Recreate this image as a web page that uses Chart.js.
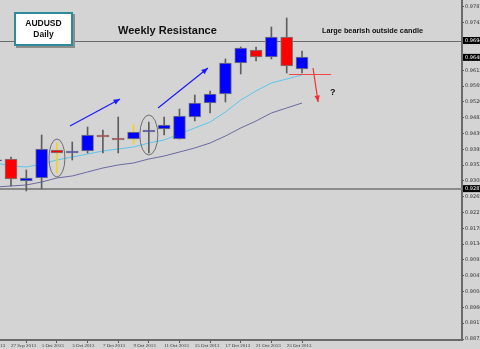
<!DOCTYPE html>
<html>
<head>
<meta charset="utf-8">
<script src="https://cdn.jsdelivr.net/npm/chart.js@4.4.0/dist/chart.umd.min.js"></script>
<style>
html, body { margin: 0; padding: 0; background: #d4d4d4; overflow: hidden; }
canvas { display: block; }
</style>
</head>
<body>
<canvas id="chart" width="480" height="349"></canvas>
<script>
// AUDUSD daily candles, 26 Sep - 24 Oct 2013
const dates = ['26 Sep 2013', '27 Sep 2013', '30 Sep 2013', '1 Oct 2013', '2 Oct 2013', '3 Oct 2013', '4 Oct 2013',
    '7 Oct 2013', '8 Oct 2013', '9 Oct 2013', '10 Oct 2013', '11 Oct 2013', '14 Oct 2013', '15 Oct 2013',
    '16 Oct 2013', '17 Oct 2013', '18 Oct 2013', '21 Oct 2013', '22 Oct 2013', '23 Oct 2013', '24 Oct 2013'];
const opens  = [0.93640, 0.93686, 0.93080, 0.93163, 0.93934, 0.93851, 0.93906, 0.94346, 0.94264, 0.94236, 0.94429,
    0.94512, 0.94236, 0.94842, 0.95227, 0.95475, 0.96329, 0.96686, 0.96494, 0.97044, 0.96163];
const highs  = [0.93900, 0.93741, 0.93383, 0.94346, 0.94126, 0.94154, 0.94567, 0.94484, 0.94842, 0.94622, 0.94704,
    0.94842, 0.95062, 0.95448, 0.95558, 0.96439, 0.96769, 0.96769, 0.97320, 0.97567, 0.96659];
const lows   = [0.93400, 0.92942, 0.92805, 0.92860, 0.93300, 0.93658, 0.93851, 0.93851, 0.93851, 0.94099, 0.93851,
    0.94346, 0.94236, 0.94732, 0.94952, 0.95255, 0.96026, 0.96384, 0.96439, 0.96053, 0.96053];
const closes = [0.93660, 0.93135, 0.93163, 0.93961, 0.93851, 0.93906, 0.94346, 0.94291, 0.94209, 0.94429, 0.94484,
    0.94622, 0.94870, 0.95227, 0.95475, 0.96329, 0.96742, 0.96494, 0.97044, 0.96246, 0.96494];

// moving averages (fast light blue, slow slate)
const maFast = [0.93576, 0.93493, 0.93466, 0.93548, 0.93658, 0.93741, 0.93823, 0.93906, 0.93961, 0.94016, 0.94126,
    0.94209, 0.94374, 0.94539, 0.94704, 0.94980, 0.95310, 0.95558, 0.95778, 0.95888, 0.95998];
const maSlow = [0.92915, 0.92942, 0.92970, 0.93052, 0.93163, 0.93218, 0.93328, 0.93438, 0.93521, 0.93576, 0.93686,
    0.93768, 0.93878, 0.93989, 0.94126, 0.94319, 0.94539, 0.94732, 0.94952, 0.95090, 0.95227];

// candles whose wicks were marked in yellow
const markedCandles = ['2 Oct 2013', '9 Oct 2013'];

// axis ticks
const yTicks = [0.97870, 0.97430, 0.96130, 0.95690, 0.95260, 0.94820, 0.94390, 0.93950, 0.93520, 0.93080,
    0.92650, 0.92210, 0.91780, 0.91340, 0.90910, 0.90470, 0.90040, 0.89600, 0.89170, 0.88730];
const xTickLabels = ['25 Sep 2013', '27 Sep 2013', '1 Oct 2013', '3 Oct 2013', '7 Oct 2013', '9 Oct 2013',
    '11 Oct 2013', '15 Oct 2013', '17 Oct 2013', '21 Oct 2013', '23 Oct 2013'];
const xTickPos = [-1, 1, 3, 5, 7, 9, 11, 13, 15, 17, 19];

// levels drawn on the chart
const resistance = 0.96947;
const support = 0.92870;
const lastPrice = 0.96483;

const BLUE = '#0000ff';
const RED = '#ff0000';

const bodies = dates.map((d, i) => ({ x: i, y: [opens[i], closes[i]] }));
const wicks = dates.map((d, i) => ({ x: i, y: [lows[i], highs[i]] }));

// Helper: line with arrow head
function arrow(ctx, x1, y1, x2, y2, color) {
    const a = Math.atan2(y2 - y1, x2 - x1);
    const len = 7;
    ctx.save();
    ctx.strokeStyle = color;
    ctx.fillStyle = color;
    ctx.lineWidth = 1.2;
    ctx.beginPath();
    ctx.moveTo(x1, y1);
    ctx.lineTo(x2, y2);
    ctx.stroke();
    ctx.beginPath();
    ctx.moveTo(x2, y2);
    ctx.lineTo(x2 - len * Math.cos(a - 0.4), y2 - len * Math.sin(a - 0.4));
    ctx.lineTo(x2 - len * Math.cos(a + 0.4), y2 - len * Math.sin(a + 0.4));
    ctx.closePath();
    ctx.fill();
    ctx.restore();
}

const overlay = {
    id: 'overlay',
    beforeDraw(chart) {
        const ctx = chart.ctx;
        ctx.save();
        ctx.fillStyle = '#d4d4d4';
        ctx.fillRect(0, 0, chart.width, chart.height);
        ctx.restore();
    },
    beforeDatasetsDraw(chart) {
        const { ctx, chartArea, scales } = chart;
        ctx.save();
        ctx.strokeStyle = '#6a6a6a';
        ctx.lineWidth = 1;
        const yr = Math.round(scales.y.getPixelForValue(resistance)) + 0.5;
        ctx.beginPath();
        ctx.moveTo(chartArea.left, yr);
        ctx.lineTo(chartArea.right, yr);
        ctx.stroke();
        ctx.lineWidth = 2;
        ctx.strokeStyle = '#8a8a8a';
        const ys = Math.round(scales.y.getPixelForValue(support));
        ctx.beginPath();
        ctx.moveTo(chartArea.left, ys);
        ctx.lineTo(chartArea.right, ys);
        ctx.stroke();
        ctx.restore();
    },
    afterDatasetsDraw(chart) {
        const { ctx, scales } = chart;
        const px = v => scales.x.getPixelForValue(v);
        const py = v => scales.y.getPixelForValue(v);

        // ellipses around the two small candles
        ctx.save();
        ctx.strokeStyle = '#6e6e6e';
        ctx.lineWidth = 1;
        [[4, 0.93713, 8, 19], [10, 0.94346, 9, 20]].forEach(([i, p, rx, ry]) => {
            ctx.beginPath();
            ctx.ellipse(px(i), py(p), rx, ry, 0, 0, Math.PI * 2);
            ctx.stroke();
        });
        ctx.restore();

        // blue trend arrows
        arrow(ctx, px(4.85), py(0.94594), px(8.12), py(0.95338), '#1a1aff');
        arrow(ctx, px(10.6), py(0.95090), px(13.86), py(0.96191), '#1a1aff');

        // red level and down arrow
        ctx.save();
        ctx.strokeStyle = '#f04848';
        ctx.lineWidth = 1;
        const yr = Math.round(py(0.96026)) + 0.5;
        ctx.beginPath();
        ctx.moveTo(px(19.15), yr);
        ctx.lineTo(px(21.9), yr);
        ctx.stroke();
        ctx.restore();
        arrow(ctx, px(20.72), py(0.96191), px(21.05), py(0.95255), '#f03030');

        // texts
        ctx.save();
        ctx.fillStyle = '#111';
        ctx.textBaseline = 'middle';
        ctx.textAlign = 'left';
        ctx.font = 'bold 11px "Liberation Sans", Arial, sans-serif';
        ctx.fillText('Weekly Resistance', 118, 31);
        ctx.font = 'bold 7.3px "Liberation Sans", Arial, sans-serif';
        ctx.fillText('Large bearish outside candle', 322, 31);
        ctx.font = 'bold 9px "Liberation Sans", Arial, sans-serif';
        ctx.fillText('?', 330, 93);

        // AUDUSD Daily box
        ctx.fillStyle = '#8c8c8c';
        ctx.fillRect(16, 14, 59, 34);
        ctx.fillStyle = '#ffffff';
        ctx.fillRect(14, 12, 59, 34);
        ctx.strokeStyle = '#2f8a9a';
        ctx.lineWidth = 2;
        ctx.strokeRect(15, 13, 57, 32);
        ctx.fillStyle = '#111';
        ctx.textAlign = 'center';
        ctx.font = 'bold 8.5px "Liberation Sans", Arial, sans-serif';
        ctx.fillText('AUDUSD', 43.5, 24);
        ctx.fillText('Daily', 43.5, 35);
        ctx.restore();
    },
    afterDraw(chart) {
        const { ctx, chartArea, scales } = chart;
        ctx.save();
        ctx.font = '5px "DejaVu Sans", sans-serif';
        ctx.textBaseline = 'middle';
        ctx.textAlign = 'left';
        [resistance, lastPrice, support].forEach(v => {
            const y = scales.y.getPixelForValue(v);
            ctx.fillStyle = '#000';
            ctx.fillRect(chartArea.right + 1, y - 3.5, 20, 7);
            ctx.fillStyle = '#fff';
            ctx.fillText(v.toFixed(5), chartArea.right + 3, y);
        });
        ctx.restore();
    }
};

new Chart(document.getElementById('chart'), {
    type: 'bar',
    data: {
        datasets: [
            {
                type: 'line',
                data: maFast.map((v, i) => ({ x: i, y: v })),
                borderColor: '#5cc6ec',
                borderWidth: 1,
                pointRadius: 0,
                tension: 0,
                order: 3
            },
            {
                type: 'line',
                data: maSlow.map((v, i) => ({ x: i, y: v })),
                borderColor: '#6a6aa2',
                borderWidth: 1,
                pointRadius: 0,
                tension: 0,
                order: 3
            },
            {
                data: wicks,
                backgroundColor: dates.map(d => markedCandles.includes(d) ? '#f2d21a' : '#5e5e5e'),
                borderWidth: 0,
                barThickness: 1,
                grouped: false,
                order: 2
            },
            {
                data: bodies,
                backgroundColor: bodies.map((b, i) => closes[i] >= opens[i] ? BLUE : RED),
                borderColor: '#7a7a7a',
                borderWidth: 1,
                borderSkipped: false,
                barThickness: 12,
                grouped: false,
                order: 1
            }
        ]
    },
    options: {
        responsive: false,
        animation: false,
        layout: { padding: 0 },
        plugins: {
            legend: { display: false },
            tooltip: { enabled: false }
        },
        scales: {
            x: {
                type: 'linear',
                offset: false,
                min: 0.2818,
                max: 30.446,
                afterBuildTicks: scale => { scale.ticks = xTickPos.map(v => ({ value: v })); },
                afterFit: scale => { scale.height = 9; scale.paddingLeft = 0; scale.paddingRight = 0; },
                grid: { drawOnChartArea: false, tickLength: 3, color: '#555' },
                border: { display: true, color: '#6a6a6a', width: 2 },
                ticks: {
                    autoSkip: false,
                    maxRotation: 0,
                    align: 'start',
                    padding: 0,
                    color: '#333',
                    font: { size: 5, family: 'Liberation Serif' },
                    callback: value => xTickLabels[xTickPos.indexOf(value)]
                }
            },
            y: {
                position: 'right',
                min: 0.887025,
                max: 0.980627,
                afterBuildTicks: scale => { scale.ticks = yTicks.map(v => ({ value: v })); },
                afterFit: scale => { scale.width = 18; scale.paddingTop = 0; scale.paddingBottom = 0; },
                grid: { drawOnChartArea: false, tickLength: 2, color: '#555' },
                border: { display: true, color: '#6a6a6a', width: 2 },
                ticks: {
                    autoSkip: false,
                    padding: 1,
                    color: '#333',
                    font: { size: 5, family: 'DejaVu Sans' },
                    callback: value => value.toFixed(5)
                }
            }
        }
    },
    plugins: [overlay]
});
</script>
</body>
</html>
